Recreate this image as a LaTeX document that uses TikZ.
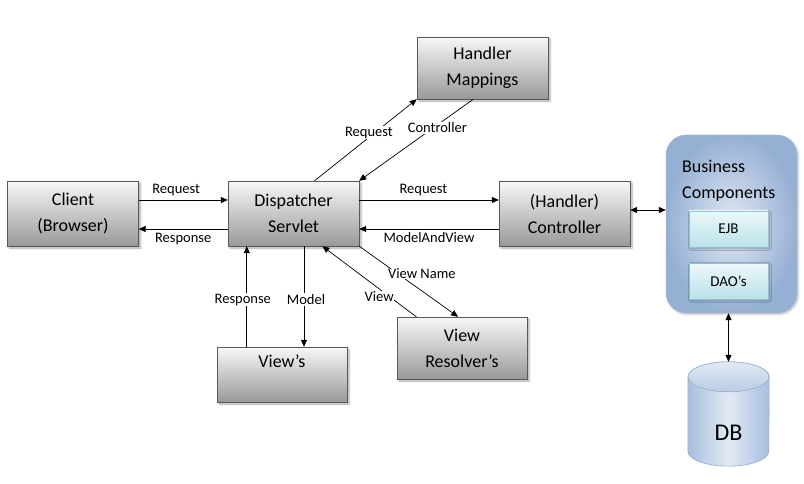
\documentclass[tikz,border=0pt]{standalone}
\usepackage{fontspec}
\setmainfont{Carlito}
\usetikzlibrary{shadows.blur,calc,arrows.meta}
\definecolor{bcin}{RGB}{226,233,244}
\definecolor{bcout}{RGB}{150,176,212}
\definecolor{bcline}{RGB}{160,185,220}
\definecolor{ejbtop}{RGB}{236,248,250}
\definecolor{ejbbot}{RGB}{186,226,233}
\definecolor{ejbline}{RGB}{140,195,205}
\definecolor{dbline}{RGB}{150,172,205}
\definecolor{dbdark}{RGB}{168,190,220}
\definecolor{dblight}{RGB}{226,234,245}
\begin{document}
\begin{tikzpicture}[x=1pt,y=-1pt,
  graybox/.style={draw=black!65, top color=black!3, bottom color=black!40,
    minimum width=131pt, minimum height=65pt, inner sep=0pt, align=center,
    font=\fontsize{18}{26}\selectfont,
    blur shadow={shadow xshift=2pt, shadow yshift=-2pt, shadow blur steps=4, shadow opacity=35}},
  subbox/.style={draw=ejbline, top color=ejbtop, bottom color=ejbbot,
    minimum width=79pt, minimum height=36pt, inner sep=0pt,
    font=\fontsize{15}{17}\selectfont,
    blur shadow={shadow xshift=1.5pt, shadow yshift=-1.5pt, shadow blur steps=3, shadow opacity=30}},
  lbl/.style={font=\fontsize{14.5}{16}\selectfont, inner sep=1pt},
  wl/.style={lbl, fill=white},
  arr/.style={-{Triangle[length=7pt,width=6pt]}, line width=0.7pt},
  darr/.style={{Triangle[length=7pt,width=6pt]}-{Triangle[length=7pt,width=6pt]}, line width=0.7pt},
]
\useasboundingbox (0,0) rectangle (804,484);

% nodes
\node[graybox] (client) at (73,213.5) {Client\\(Browser)};
\node[graybox] (disp) at (293.5,213.5) {Dispatcher\\Servlet};
\node[graybox, minimum height=62pt] (hm) at (482.5,68) {Handler\\Mappings};
\node[graybox] (ctrl) at (564.5,213.5) {(Handler)\\Controller};
\node[graybox, minimum width=130pt, minimum height=55pt] (views) at (282,374.5) {View’s\\~};
\node[graybox, minimum width=130pt, minimum height=62pt] (vr) at (462,348) {View\\Resolver’s};

% business components
\node[draw=bcline, inner color=bcin, outer color=bcout, rounded corners=20pt,
  minimum width=131pt, minimum height=178pt,
  blur shadow={shadow xshift=1.5pt, shadow yshift=-1.5pt, shadow blur steps=3, shadow opacity=25}]
  (bc) at (731.5,224) {};
\node[anchor=north west, align=left, inner sep=0pt, font=\fontsize{18}{26}\selectfont]
  (bclabel) at (682,160) {Business\\Components};
\node[subbox] (ejb) at (728.5,229) {EJB};
\node[subbox] (dao) at (728.5,281) {DAO’s};

% DB cylinder
\node[minimum width=81pt, minimum height=104pt, inner sep=0pt] (db) at (728.5,414) {};
\path[draw=dbline, line width=0.6pt, left color=dbdark, right color=dbdark, middle color=dblight]
  ([yshift=-15pt]db.north west) -- ([yshift=15pt]db.south west)
  arc[start angle=180, end angle=360, x radius=40.5pt, y radius=15pt]
  -- ([yshift=-15pt]db.north east)
  arc[start angle=0, end angle=180, x radius=40.5pt, y radius=15pt] -- cycle;
\path[draw=dbline, line width=0.6pt, top color=dblight, bottom color=dbdark!80!white]
  ([yshift=-15pt]db.north) ellipse[x radius=40.5pt, y radius=15pt];
\node[font=\fontsize{24}{28}\selectfont, inner sep=0pt] (dblabel) at ([yshift=-19pt]db.center) {DB};

% connectors
\draw[arr] ([yshift=13.5pt]client.east) -- node[lbl, above=3pt, pos=0.42] {Request} ([yshift=13.5pt]disp.west);
\draw[arr] ([yshift=-15.5pt]disp.west) -- node[lbl, below=2.5pt, pos=0.5] {Response} ([yshift=-15.5pt]client.east);
\draw[arr] ([yshift=13.5pt]disp.east) -- node[lbl, above=3pt, pos=0.46] {Request} ([yshift=13.5pt]ctrl.west);
\draw[arr] ([yshift=-15.5pt]ctrl.west) -- node[lbl, below=2.5pt, pos=0.5] {ModelAndView} ([yshift=-15.5pt]disp.east);

\draw[arr] ($(disp.north west)!0.66!(disp.north east)$) -- node[wl, pos=0.59, xshift=-6pt] {Request} (hm.south west);
\draw[arr] ($(hm.south west)!0.43!(hm.south east)$) -- node[wl, pos=0.35, xshift=4pt] {Controller} (disp.north east);

\coordinate (respx) at ($(views.north west)!0.23!(views.north east)$);
\draw[arr] (respx) -- node[wl, pos=0.47, xshift=-4pt] {Response} (respx |- disp.south);
\coordinate (modelx) at ($(disp.south west)!0.58!(disp.south east)$);
\draw[arr] (modelx) -- node[wl, pos=0.53, xshift=2pt] {Model} (modelx |- views.north);

\draw[arr] (disp.south east) -- node[wl, pos=0.39, anchor=west, xshift=-10pt, inner sep=0pt] {View Name} ($(vr.north west)!0.47!(vr.north east)$);
\draw[arr] ($(vr.north west)!0.15!(vr.north east)$) -- node[wl, pos=0.29, xshift=-10pt, inner sep=0pt] {View} ($(disp.south west)!0.72!(disp.south east)$);

\draw[darr] ([yshift=3.5pt]ctrl.east) -- ([yshift=3.5pt]ctrl.east -| bc.west);
\draw[darr] (db.north |- bc.south) -- (db.north);
\end{tikzpicture}
\end{document}
